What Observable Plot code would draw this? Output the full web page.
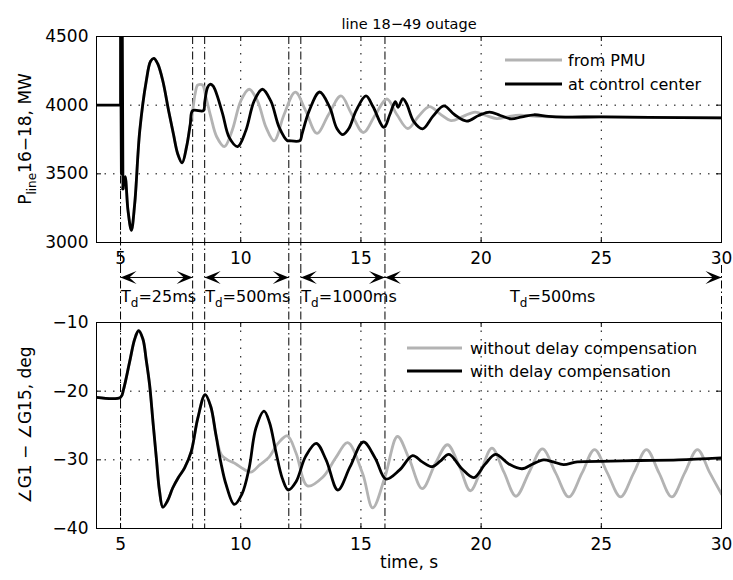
<!DOCTYPE html>
<html><head><meta charset="utf-8">
<script src="https://cdn.jsdelivr.net/npm/d3@7"></script>
<script src="https://cdn.jsdelivr.net/npm/@observablehq/plot@0.6"></script>
<style>
body{margin:0;background:#fff;}
#fig{position:relative;width:733px;height:580px;background:#fff;}
#fig svg{position:absolute;left:0;overflow:visible;}
</style></head><body><div id="fig"></div>
<script>
// ---------- data ----------
const xDomain = [4, 30];
const xTicks = [5, 10, 15, 20, 25, 30];
const switchTimes = [5, 8, 8.5, 12, 12.5, 16];
const topYTicks = [3000, 3500, 4000, 4500];
const botYTicks = [-40, -30, -20, -10];

// delay segments
const tdStart = [5, 8.5, 12.5, 16];
const tdEnd = [8, 12, 16, 30];
const tdText = ["25ms", "500ms", "1000ms", "500ms"];
const tdLabelAt = [5, 8.5, 12.5, 23];
const tdAnchor = ["start", "start", "start", "middle"];

// top panel: line 16-18 power, MW
const spikeT = [4, 5.0, 5.0, 5.035, 5.07, 5.1];
const spikeP = [4000, 4000, 4700, 3500, 4700, 3390];

const ccT = [5.1, 5.19, 5.31, 5.45, 5.59, 5.8, 6.07, 6.25, 6.39, 6.55, 6.76, 7.0, 7.2, 7.38, 7.56, 7.75, 7.9, 8.0,
  8.45, 8.5, 8.62, 8.72, 8.85, 9.0, 9.25, 9.52, 9.87, 10.21, 10.56, 10.9, 11.25, 11.6, 11.94, 12.0, 12.46,
  12.55, 12.85, 13.28, 13.7, 14.0, 14.25, 14.5, 14.8, 15.21, 15.5, 15.96, 16.2, 16.43, 16.55, 16.74, 16.9,
  17.2, 17.57, 18.0, 18.45, 18.9, 19.4, 19.9, 20.35, 20.8, 21.25, 21.7, 22.2, 22.8, 23.5, 25, 27, 30];
const ccP = [3390, 3480, 3234, 3089, 3283, 3814, 4176, 4320, 4341, 4300, 4176, 3960, 3790, 3645, 3580, 3700, 3860, 3960,
  3960, 4020, 4130, 4152, 4140, 4080, 3935, 3765, 3698, 3814, 4031, 4116, 4031, 3838, 3741, 3741, 3741,
  3790, 3960, 4096, 3985, 3830, 3785, 3830, 3960, 4067, 3990, 3838, 3930, 4025, 3985, 4048, 4010,
  3880, 3828, 3920, 3995, 3930, 3884, 3925, 3950, 3925, 3900, 3915, 3930, 3918, 3913, 3915, 3911, 3907];

const pmuT = [5.1, 5.19, 5.31, 5.45, 5.59, 5.8, 6.07, 6.25, 6.39, 6.55, 6.76, 7.0, 7.2, 7.38, 7.56, 7.75, 7.9, 8.0,
  8.1, 8.2, 8.3, 8.42, 8.55, 8.75, 9.0, 9.32, 9.65, 10.0, 10.35, 10.7, 11.05, 11.39, 11.8, 12.27, 12.7,
  13.17, 13.65, 14.17, 14.6, 15.1, 15.6, 16.08, 16.5, 16.95, 17.4, 17.85, 18.3, 18.75, 19.25, 19.75, 20.2,
  20.65, 21.1, 21.6, 22.3, 23.5, 25, 27, 30];
const pmuP = [3390, 3480, 3234, 3089, 3283, 3814, 4176, 4320, 4341, 4300, 4176, 3960, 3790, 3645, 3580, 3700, 3860, 3960,
  4080, 4145, 4152, 4145, 4060, 3920, 3770, 3698, 3820, 4030, 4116, 4030, 3840, 3741, 3930, 4095, 3960,
  3795, 3930, 4067, 3940, 3801, 3930, 4045, 3930, 3830, 3920, 3990, 3935, 3888, 3918, 3950, 3925,
  3902, 3915, 3928, 3918, 3913, 3915, 3911, 3907];

// bottom panel: angle G1 - G15, deg
const withT = [4, 5.0, 5.12, 5.38, 5.59, 5.75, 5.93, 6.07, 6.21, 6.35, 6.49, 6.62, 6.76, 6.95, 7.17, 7.4, 7.66, 7.94,
  8.21, 8.52, 8.75, 8.97, 9.18, 9.39, 9.73, 10.05, 10.35, 10.63, 10.97, 11.2, 11.46, 11.73, 11.98, 12.3,
  12.7, 13.14, 13.55, 14.04, 14.55, 15.1, 15.6, 16.04, 16.6, 17.15, 17.55, 17.97, 18.3, 18.66, 19.2, 19.7,
  20.15, 20.6, 21.15, 21.7, 22.15, 22.6, 23.0, 23.43, 24.0, 25.4, 26.5, 28.2, 30];
const withA = [-20.9, -20.9, -19.8, -15.7, -12.4, -11.2, -12.4, -15.5, -19.1, -24.5, -29.75, -34.5, -36.9, -36, -34.1, -32.6, -31.2, -28.8,
  -24.0, -20.5, -22.2, -26.4, -30.5, -33.6, -36.5, -35, -31.2, -25.4, -22.9, -24.6, -28.8, -32.7, -34.4, -33.2,
  -29.5, -27.6, -30, -34.4, -31, -27.4, -29.8, -32.8, -31.5, -29.4, -30.3, -31.0, -30.2, -29.2, -31.3, -32.6,
  -30.7, -29.2, -30.6, -31.3, -30.6, -30.0, -30.3, -30.7, -30.3, -30.2, -30.1, -30.0, -29.7];

const woT = [4, 5.0, 5.12, 5.38, 5.59, 5.75, 5.93, 6.07, 6.21, 6.35, 6.49, 6.62, 6.76, 6.95, 7.17, 7.4, 7.66, 7.94,
  8.21, 8.52, 8.75, 8.97, 9.2, 9.45, 9.8, 10.1, 10.42, 10.8, 11.18, 11.55, 11.94, 12.3, 12.78, 13.42, 13.97,
  14.45, 15.07, 15.49, 16.0, 16.52, 17.0, 17.55, 18.1, 18.6, 19.1, 19.55, 20.0, 20.45, 20.95, 21.45, 22.0,
  22.55, 23.1, 23.65, 24.2, 24.72, 25.25, 25.8, 26.35, 26.88, 27.4, 27.93, 28.47, 29.0, 29.5, 30];
const woA = [-20.9, -20.9, -19.8, -15.7, -12.4, -11.2, -12.4, -15.5, -19.1, -24.5, -29.75, -34.5, -36.9, -36, -34.1, -32.6, -31.2, -28.8,
  -24.0, -20.5, -22.2, -26.4, -29.3, -30.0, -30.6, -31.3, -31.8, -30.7, -29.6, -27.6, -26.5, -29, -33.8, -32.5, -29.6,
  -27.5, -32, -37.0, -32.5, -26.6, -29.8, -34.2, -30.5, -27.8, -31, -34.5, -31.5, -28.3, -31.8, -35.3, -31.8,
  -28.4, -31.9, -35.4, -31.9, -28.5, -31.9, -35.4, -31.9, -28.5, -31.9, -35.4, -31.9, -28.5, -31.8, -35.0];

// ---------- style ----------
const FONT = "DejaVu Sans, sans-serif";
const GRAY = "#b3b3b3";
const LW = 2.8;
const W = 733, ML = 96, MR = 12;
const PW = W - ML - MR;
const gridDash = "1.5,7";
const dashDot = "8,3,1.5,3";
const fmt = d => d < 0 ? "\u2212" + Math.abs(d) : String(d);
const rows = (T, V) => T.map((t, i) => ({t, v: V[i]}));
const baseStyle = {fontFamily: FONT, fontSize: "17px", background: "transparent", overflow: "visible", color: "#000"};

function boxMarks(yTicks, PH) {
  return [
    Plot.frame({stroke: "#000", strokeWidth: 1}),
    Plot.tickY(yTicks, {y: d => d, insetRight: PW - 5, stroke: "#000"}),
    Plot.tickY(yTicks, {y: d => d, insetLeft: PW - 5, stroke: "#000"}),
    Plot.tickX(xTicks, {x: d => d, insetTop: PH - 5, stroke: "#000"}),
    Plot.tickX(xTicks, {x: d => d, insetBottom: PH - 5, stroke: "#000"}),
    Plot.axisY({ticks: yTicks, tickSize: 0, tickPadding: 8, tickFormat: fmt, label: null, fontSize: 17}),
    Plot.axisX({ticks: xTicks, tickSize: 0, tickPadding: 9, tickFormat: fmt, label: null, fontSize: 17})
  ];
}

const fig = document.getElementById("fig");

// ---------- top panel ----------
const topH = 265, topMT = 36, topMB = 23;
const topChart = Plot.plot({
  width: W, height: topH, marginLeft: ML, marginRight: MR, marginTop: topMT, marginBottom: topMB,
  style: baseStyle,
  x: {domain: xDomain}, y: {domain: [3000, 4500]},
  marks: [
    Plot.ruleX(xTicks, {x: d => d, stroke: "#000", strokeDasharray: gridDash}),
    Plot.ruleY(topYTicks, {y: d => d, stroke: "#000", strokeDasharray: gridDash}),
    Plot.ruleX(switchTimes, {x: d => d, stroke: "#000", strokeDasharray: dashDot, insetBottom: -topMB}),
    Plot.line(rows(pmuT, pmuP), {x: "t", y: "v", stroke: GRAY, strokeWidth: LW, curve: "catmull-rom", clip: true}),
    Plot.line(rows(spikeT, spikeP), {x: "t", y: "v", stroke: "#000", strokeWidth: LW, clip: true}),
    Plot.line(rows(ccT, ccP), {x: "t", y: "v", stroke: "#000", strokeWidth: LW, curve: "catmull-rom", clip: true}),
    ...boxMarks(topYTicks, topH - topMT - topMB),
    Plot.text(["line 18\u221249 outage"], {frameAnchor: "top", dy: -18, fontSize: 14.5})
  ]
});
topChart.style.top = "0px";
fig.appendChild(topChart);

// ---------- middle annotation strip ----------
const midTop = topH, midH = 57;
const arrowRow = 0.79;
const arrowHead = {
  draw(ctx) {
    const L = 16, Wd = 6.5;
    ctx.moveTo(0, 0); ctx.lineTo(-L, -Wd); ctx.lineTo(-0.55 * L, 0); ctx.lineTo(-L, Wd); ctx.closePath();
  }
};
const heads = tdStart.flatMap((s, i) => [{x: s, rot: 180}, {x: tdEnd[i], rot: 0}]);
const midChart = Plot.plot({
  width: W, height: midH, marginLeft: ML, marginRight: MR, marginTop: 0, marginBottom: 0,
  style: baseStyle,
  x: {domain: xDomain, axis: null}, y: {domain: [0, 1], axis: null},
  marks: [
    Plot.ruleX([...switchTimes, tdEnd[tdEnd.length - 1]], {x: d => d, stroke: "#000", strokeDasharray: dashDot}),
    Plot.link(tdStart.map((s, i) => ({s, e: tdEnd[i]})), {x1: "s", x2: "e", y1: arrowRow, y2: arrowRow, stroke: "#000", strokeWidth: 1}),
    Plot.dot(heads, {x: "x", y: arrowRow, rotate: "rot", symbol: arrowHead, r: 5, fill: "#000", stroke: "none"})
  ]
});
midChart.style.top = midTop + "px";
fig.appendChild(midChart);
const xs = midChart.scale("x");
tdText.forEach((txt, i) => {
  const px = xs.apply(tdLabelAt[i]) + (tdAnchor[i] === "start" ? 1 : 0);
  const t = d3.select(midChart).append("text")
    .attr("x", px).attr("y", 37).attr("text-anchor", tdAnchor[i])
    .attr("font-family", FONT).attr("font-size", 16).attr("fill", "#000");
  t.append("tspan").text("T");
  t.append("tspan").attr("dy", 5).attr("font-size", 12).text("d");
  t.append("tspan").attr("dy", -5).text("=" + txt);
});

// ---------- bottom panel ----------
const botTop = midTop + midH, botH = 580 - botTop, botMB = 52;
const botChart = Plot.plot({
  width: W, height: botH, marginLeft: ML, marginRight: MR, marginTop: 0, marginBottom: botMB,
  style: baseStyle,
  x: {domain: xDomain}, y: {domain: [-40, -10]},
  marks: [
    Plot.ruleX(xTicks, {x: d => d, stroke: "#000", strokeDasharray: gridDash}),
    Plot.ruleY(botYTicks, {y: d => d, stroke: "#000", strokeDasharray: gridDash}),
    Plot.ruleX(switchTimes, {x: d => d, stroke: "#000", strokeDasharray: dashDot}),
    Plot.line(rows(woT, woA), {x: "t", y: "v", stroke: GRAY, strokeWidth: LW, curve: "catmull-rom", clip: true}),
    Plot.line(rows(withT, withA), {x: "t", y: "v", stroke: "#000", strokeWidth: LW, curve: "catmull-rom", clip: true}),
    ...boxMarks(botYTicks, botH - botMB),
    Plot.text(["time, s"], {frameAnchor: "bottom", dy: 39, fontSize: 17})
  ]
});
botChart.style.top = botTop + "px";
fig.appendChild(botChart);

// ---------- y labels & legends ----------
function yLabel(svg, cy, parts) {
  const t = d3.select(svg).append("text")
    .attr("transform", `translate(31,${cy}) rotate(-90)`)
    .attr("text-anchor", "middle").attr("font-family", FONT).attr("font-size", 17).attr("fill", "#000");
  parts.forEach(p => {
    const s = t.append("tspan").text(p.text);
    if (p.dy) s.attr("dy", p.dy);
    if (p.size) s.attr("font-size", p.size);
  });
}
yLabel(topChart, (topMT + topH - topMB) / 2, [{text: "P"}, {text: "line", dy: 5, size: 12}, {text: "16\u221218, MW", dy: -5}]);
yLabel(botChart, (botH - botMB) / 2, [{text: "\u2220G1 \u2212 \u2220G15, deg"}]);

function legend(svg, x0, x1, tx, items) {
  const g = d3.select(svg).append("g").attr("text-anchor", "start");
  items.forEach(it => {
    g.append("line").attr("x1", x0).attr("x2", x1).attr("y1", it.y).attr("y2", it.y)
      .attr("stroke", it.color).attr("stroke-width", LW);
    g.append("text").attr("x", tx).attr("y", it.y).attr("dy", "0.35em").attr("text-anchor", "start")
      .attr("font-family", FONT).attr("font-size", 16).attr("fill", "#000").text(it.label);
  });
}
legend(topChart, 505, 562, 568, [{y: 60, color: GRAY, label: "from PMU"}, {y: 84, color: "#000", label: "at control center"}]);
legend(botChart, 407, 462, 470, [{y: 26, color: GRAY, label: "without delay compensation"}, {y: 49, color: "#000", label: "with delay compensation"}]);
</script></body></html>
